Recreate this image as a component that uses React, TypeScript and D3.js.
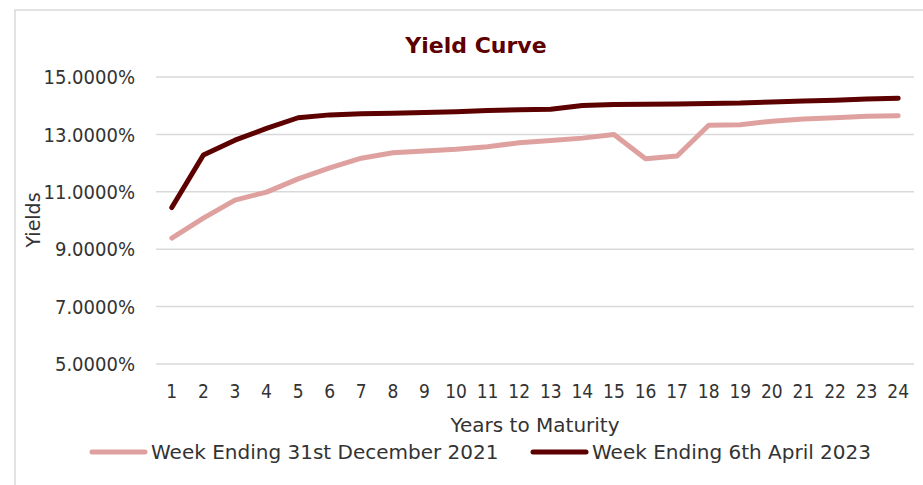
import React from "react"
import * as d3 from "d3"

const years = d3.range(1, 25).map(String)
const dec2021 = [9.39, 10.08, 10.71, 10.99, 11.45, 11.83, 12.17, 12.36, 12.42, 12.48, 12.57, 12.71, 12.79, 12.87, 13.0, 12.15, 12.25, 13.32, 13.34, 13.46, 13.54, 13.58, 13.63, 13.65]
const apr2023 = [10.45, 12.28, 12.8, 13.21, 13.58, 13.68, 13.72, 13.74, 13.76, 13.79, 13.83, 13.86, 13.88, 14.01, 14.04, 14.05, 14.06, 14.08, 14.09, 14.13, 14.16, 14.19, 14.23, 14.26]
const yTicks = [5, 7, 9, 11, 13, 15]
const seriesNames = ["Week Ending 31st December 2021", "Week Ending 6th April 2023"]
const seriesColors = ["#DFA19F", "#5C0000"]

const W = 923
const H = 485
const font = "'DejaVu Sans', sans-serif"
const condensed = "'DejaVu Sans Condensed', 'DejaVu Sans', sans-serif"
const textColor = "#333333"

const App = () => {
    const x = d3.scaleBand().domain(years).range([156, 914])
    const y = d3.scaleLinear().domain([5, 15]).range([364, 77])
    const line = d3.line<number>()
        .x((_, i) => (x(years[i]) as number) + x.bandwidth() / 2)
        .y(d => y(d))

    const series = [dec2021, apr2023]

    return (
        <svg width={W} height={H} style={{position: "absolute", left: 0, top: 0}}>
            <rect x={0} y={0} width={W} height={H} fill="#fff"/>
            <rect x={15} y={10} width={W} height={H} fill="#fff" stroke="#D9D9D9" strokeWidth={1.5}/>
            <text x={476} y={53} textAnchor="middle" fontFamily={font} fontWeight="bold"
                  fontSize={22} fill="#5C0000">Yield Curve</text>

            {/* grid + y labels */}
            {yTicks.map(t => (
                <g key={t}>
                    <line x1={156} x2={914} y1={y(t)} y2={y(t)} stroke="#D9D9D9" strokeWidth={1.5}/>
                    <text x={135} y={y(t)} dy="0.36em" textAnchor="end" fontFamily={condensed}
                          fontSize={20} fill={textColor}>{t.toFixed(4)}%</text>
                </g>
            ))}
            <text transform="translate(33,220) rotate(-90)" textAnchor="middle" dy="0.36em"
                  fontFamily={font} fontSize={19} fill={textColor}>Yields</text>

            {/* x labels */}
            {years.map(d => (
                <text key={d} x={(x(d) as number) + x.bandwidth() / 2} y={391} dy="0.36em"
                      textAnchor="middle" fontFamily={condensed} fontSize={19} fill={textColor}>{d}</text>
            ))}
            <text x={535} y={425} dy="0.36em" textAnchor="middle" fontFamily={font} fontSize={20}
                  fill={textColor}>Years to Maturity</text>

            {series.map((s, i) => (
                <path key={i} d={line(s) ?? ""} fill="none" stroke={seriesColors[i]} strokeWidth={5}
                      strokeLinejoin="round" strokeLinecap="round"/>
            ))}

            {/* legend */}
            {seriesNames.map((n, i) => {
                const lx = i === 0 ? 92 : 533
                return (
                    <g key={n}>
                        <line x1={lx} x2={lx + 53} y1={452} y2={452} stroke={seriesColors[i]} strokeWidth={5}
                              strokeLinecap="round"/>
                        <text x={lx + 59} y={452} dy="0.36em" fontFamily={font} fontSize={20}
                              fill={textColor}>{n}</text>
                    </g>
                )
            })}
        </svg>
    )
}

export default App
